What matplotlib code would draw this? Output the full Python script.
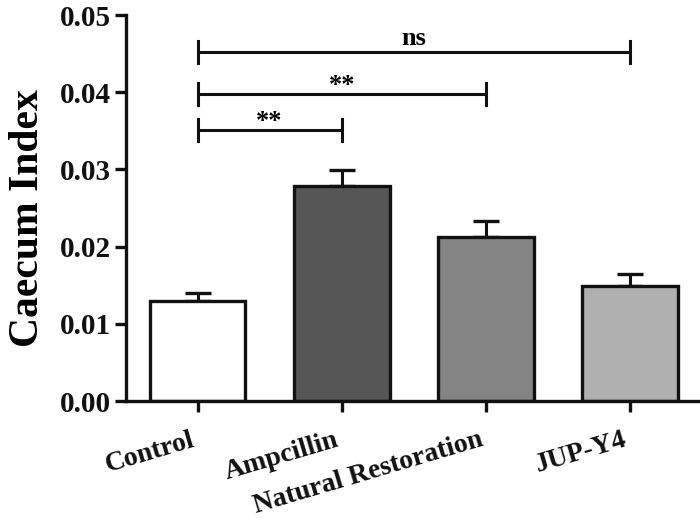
import matplotlib
matplotlib.use("Agg")
import matplotlib.pyplot as plt

categories = ["Control", "Ampcillin", "Natural Restoration", "JUP-Y4"]
means = [0.0130, 0.0278, 0.0212, 0.0149]
errors = [0.0010, 0.0021, 0.0021, 0.0015]
colors = ["#ffffff", "#565656", "#848484", "#b0b0b0"]
yticks = [0.00, 0.01, 0.02, 0.03, 0.04, 0.05]
ytick_labels = ["0.00", "0.01", "0.02", "0.03", "0.04", "0.05"]
# significance comparisons: (group a, group b, height, label)
comparisons = [(0, 1, 0.0351, "**"), (0, 2, 0.0398, "**"), (0, 3, 0.0452, "ns")]

plt.rcParams['font.family'] = ['Liberation Serif', 'DejaVu Serif']
plt.rcParams['font.weight'] = 'bold'

fig = plt.figure(figsize=(7, 5.25), dpi=100)
ax = fig.add_axes([126/700, 1 - 401/525, (700 - 126)/700, (401 - 15)/525])

x = list(range(len(categories)))
ax.bar(x, means, width=0.665, color=colors, edgecolor="#111111", linewidth=2.4, zorder=2)
ax.errorbar(x, means, yerr=[[0]*len(errors), errors], fmt='none', ecolor="#111111",
            elinewidth=2.2, capsize=9.5, capthick=2.4, zorder=1)

lw = 2.2
tick_h = 0.00145
for a, b, h, lab in comparisons:
    ax.plot([a, b], [h, h], color="#111111", lw=lw, solid_capstyle='butt', clip_on=False)
    ax.plot([a, a], [h - tick_h, h + tick_h], color="#111111", lw=lw, clip_on=False)
    ax.plot([b, b], [h - tick_h, h + tick_h], color="#111111", lw=lw, clip_on=False)
    if lab == "ns":
        ax.text((a + b) / 2, h + 0.0003, lab, ha='center', va='bottom', fontsize=19, fontweight='bold')
    else:
        ax.text((a + b) / 2, h - 0.0004, lab, ha='center', va='bottom', fontsize=19, fontweight='bold')

ax.set_xlim(-0.496, 3.485)
ax.set_ylim(0, 0.05)
ax.set_yticks(yticks)
ax.set_yticklabels(ytick_labels, fontsize=21, fontweight='bold')
ax.set_xticks(x)
ax.set_xticklabels(categories, fontsize=20, fontweight='bold', rotation=16.5, ha='right')

for side in ['top', 'right']:
    ax.spines[side].set_visible(False)
for side in ['left', 'bottom']:
    ax.spines[side].set_linewidth(2.4)
    ax.spines[side].set_color("#111111")
ax.tick_params(axis='y', length=8, width=2.4, pad=3, colors="#111111")
ax.tick_params(axis='x', length=8, width=2.4, pad=11, colors="#111111")

ax.set_ylabel("Caecum Index", fontsize=30, fontweight='bold', va='center')
ax.yaxis.set_label_coords(-0.17, 0.475)

fig.savefig("out.png", dpi=100)
